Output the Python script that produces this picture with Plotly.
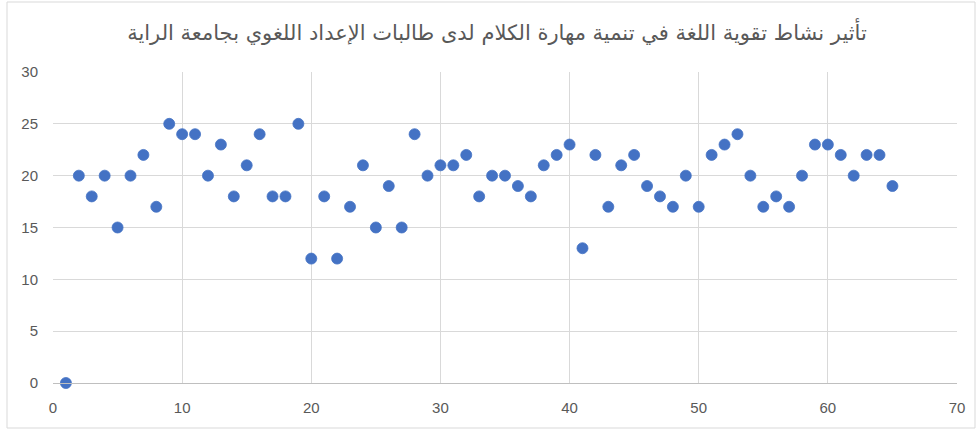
import plotly.graph_objects as go

title_text = "تأثير نشاط تقوية اللغة في تنمية مهارة الكلام لدى طالبات الإعداد اللغوي بجامعة الراية"
x_vals = list(range(1, 66))
y_vals = [0, 20, 18, 20, 15, 20, 22, 17, 25, 24,
          24, 20, 23, 18, 21, 24, 18, 18, 25, 12,
          18, 12, 17, 21, 15, 19, 15, 24, 20, 21,
          21, 22, 18, 20, 20, 19, 18, 21, 22, 23,
          13, 22, 17, 21, 22, 19, 18, 17, 20, 17,
          22, 23, 24, 20, 17, 18, 17, 20, 23, 23,
          22, 20, 22, 22, 19]
x_ticks = [0, 10, 20, 30, 40, 50, 60, 70]
y_ticks = [0, 5, 10, 15, 20, 25, 30]

W, H = 977, 430
L, R, T, B = 53, 20, 72, 47
pw, ph = W - L - R, H - T - B

def px(xp):
    return (xp - L) / pw

def py(yp):
    return (H - B - yp) / ph

fig = go.Figure()
fig.add_trace(go.Scatter(
    x=x_vals, y=y_vals, mode="markers",
    marker=dict(size=11, color="#4472C4", line=dict(width=0.8, color="#4472C4")),
    cliponaxis=False, showlegend=False,
))

tick_font = dict(family="Liberation Sans Narrow, Liberation Sans, sans-serif", size=15, color="#595959")
fig.update_layout(
    width=W, height=H,
    margin=dict(l=L, r=R, t=T, b=B, autoexpand=False),
    paper_bgcolor="white", plot_bgcolor="white",
    title=dict(text=title_text, x=px(497), xref="paper", xanchor="center",
               y=1 - 33 / H, yanchor="middle", automargin=False,
               font=dict(family="DejaVu Sans, Noto Sans, sans-serif", size=21, color="#595959")),
    xaxis=dict(range=[0, 70], tickvals=x_ticks, showgrid=True, gridcolor="#D9D9D9", gridwidth=1,
               zeroline=False, showline=True, linecolor="#BFBFBF", linewidth=1, automargin=False,
               ticks="", ticklabelstandoff=11, tickfont=tick_font, fixedrange=True),
    yaxis=dict(range=[0, 30], tickvals=y_ticks, showgrid=True, gridcolor="#D9D9D9", gridwidth=1,
               zeroline=False, showline=False, ticks="", ticklabelstandoff=14, automargin=False,
               tickfont=tick_font, fixedrange=True),
    shapes=[dict(type="rect", xref="paper", yref="paper",
                 x0=px(7), x1=px(975), y0=py(428), y1=py(2),
                 line=dict(color="#D9D9D9", width=1), fillcolor="rgba(0,0,0,0)", layer="below")],
)

fig.write_html("out.html", config={"displayModeBar": False},
               post_script="document.body.style.margin='0';document.body.style.overflow='hidden';")
